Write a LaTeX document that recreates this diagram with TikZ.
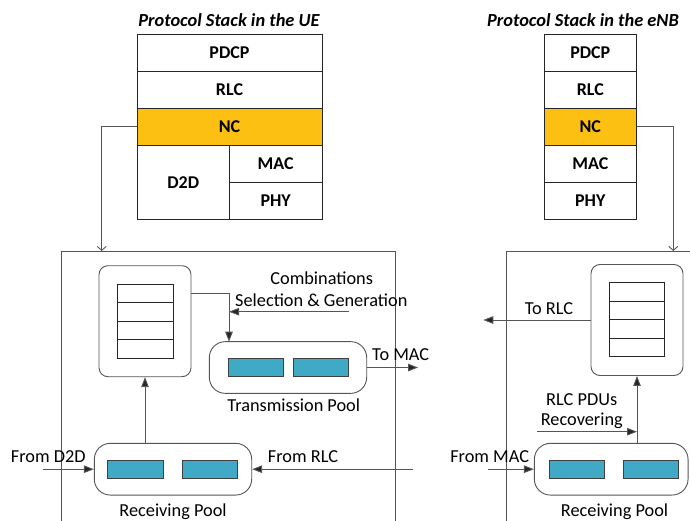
\documentclass[tikz,border=0pt]{standalone}
\usepackage{fontspec}
\setmainfont{Carlito}
\usetikzlibrary{arrows.meta}
\definecolor{ncfill}{RGB}{251,192,18}
\definecolor{tealb}{RGB}{64,170,198}
\definecolor{ln}{RGB}{85,85,85}
\begin{document}
\begin{tikzpicture}[x=1pt,y=-1pt,
  cell/.style={draw=black!85, line width=0.8pt, inner sep=0pt, font=\fontsize{18}{21}\selectfont\bfseries},
  ttl/.style={inner sep=0pt, font=\fontsize{18.4}{21}\selectfont\bfseries\itshape},
  lbl/.style={inner sep=0pt, font=\fontsize{18.3}{22}\selectfont},
  qbox/.style={draw=ln, line width=0.9pt, rounded corners=9pt, minimum width=92pt, minimum height=111pt, inner sep=0pt},
  qcell/.style={draw=black!85, line width=0.8pt, minimum width=55.7pt, minimum height=18.5pt, inner sep=0pt},
  pool/.style={draw=ln, line width=0.9pt, rounded corners=16pt, minimum height=51.7pt, inner sep=0pt},
  tbox/.style={draw=black!75, line width=0.8pt, fill=tealb, minimum width=55.5pt, minimum height=18.4pt, inner sep=0pt},
  arr/.style={draw=ln, line width=0.9pt, -{Triangle[length=10pt,width=7.5pt,fill=black!85]}},
  openarr/.style={draw=ln, line width=0.9pt, -{Straight Barb[length=4pt,width=9pt]}},
  frame/.style={draw=ln, line width=0.9pt}
]
\useasboundingbox (0,0) rectangle (690,521);

% ---------- UE protocol stack ----------
\node[ttl] (uettl) at (229,20) {Protocol Stack in the UE};
\node[cell, minimum width=185pt, minimum height=36.7pt] (uepdcp) at (229.5,52.6) {PDCP};
\node[cell, minimum width=185pt, minimum height=37.3pt] (uerlc) at (229.5,89.7) {RLC};
\node[cell, minimum width=185pt, minimum height=37pt, fill=ncfill] (uenc) at (229.5,126.8) {NC};
\node[cell, minimum width=92.3pt, minimum height=73.7pt] (ued2d) at (183.2,182.2) {D2D};
\node[cell, minimum width=92.7pt, minimum height=37pt] (uemac) at (275.7,163.8) {MAC};
\node[cell, minimum width=92.7pt, minimum height=36.7pt] (uephy) at (275.7,200.7) {PHY};

% ---------- eNB protocol stack ----------
\node[ttl] (enbttl) at (583,20) {Protocol Stack in the eNB};
\node[cell, minimum width=92.7pt, minimum height=36.7pt] (enpdcp) at (590.3,52.6) {PDCP};
\node[cell, minimum width=92.7pt, minimum height=37.3pt] (enrlc) at (590.3,89.7) {RLC};
\node[cell, minimum width=92.7pt, minimum height=37pt, fill=ncfill] (ennc) at (590.3,126.8) {NC};
\node[cell, minimum width=92.7pt, minimum height=37pt] (enmac) at (590.3,163.8) {MAC};
\node[cell, minimum width=92.7pt, minimum height=36.7pt] (enphy) at (590.3,200.7) {PHY};

% ---------- frames ----------
\draw[frame] (61.7,521) -- (61.7,251) -- (395.7,251) -- (395.7,521);
\draw[frame] (506,521) -- (506,251) -- (690,251);

\coordinate (uein) at (101.7,251);
\coordinate (enbin) at (673.3,251);
\draw[openarr] (uenc.west) -| (uein);
\draw[openarr] (ennc.east) -| (enbin);

% ---------- UE NC module ----------
\node[qbox] (uqbox) at (145,321.2) {};
\node[qcell] (uq1) at (145.2,293.5) {};
\node[qcell] (uq2) at (145.2,312) {};
\node[qcell] (uq3) at (145.2,330.5) {};
\node[qcell] (uq4) at (145.2,349) {};

\node[pool, minimum width=157.4pt] (tpool) at (288,367.5) {};
\node[tbox] (tp1) at (256,367.5) {};
\node[tbox] (tp2) at (321,367.5) {};
\node[lbl] (tplbl) at (293.8,405) {Transmission Pool};

\node[lbl] (comb1) at (321.7,278.3) {Combinations};
\node[lbl] (comb2) at (321.3,300.7) {Selection \& Generation};
\coordinate (tpin) at (229,341.7);
\coordinate (selsrc) at (349,311.7);
\coordinate (selend) at (229,311.7);
\draw[arr] ([yshift=28pt]uqbox.east) -| (tpin);
\draw[arr] (selsrc) -- (selend);

\coordinate (tomac) at (418,367.5);
\draw[arr] (tpool.east) -- (tomac);
\node[lbl] (tomaclbl) at (400.7,354.3) {To MAC};

\node[pool, minimum width=157.4pt] (urp) at (173,469.2) {};
\node[tbox] (ur1) at (135.5,469.2) {};
\node[tbox] (ur2) at (209.8,469.2) {};
\node[lbl] (urplbl) at (173,511.7) {Receiving Pool};
\draw[arr] (urp.north -| uqbox.south) -- (uqbox.south);

\coordinate (fd2d) at (43.3,469.2);
\coordinate (frlc) at (413,469.2);
\draw[arr] (fd2d) -- (urp.west);
\draw[arr] (frlc) -- (urp.east);
\node[lbl] (fd2dlbl) at (48.3,456.7) {From D2D};
\node[lbl] (frlclbl) at (303,457) {From RLC};

% ---------- eNB NC module ----------
\node[qbox] (eqbox) at (637,320) {};
\node[qcell] (eq1) at (636.8,292) {};
\node[qcell] (eq2) at (636.8,310.5) {};
\node[qcell] (eq3) at (636.8,329) {};
\node[qcell] (eq4) at (636.8,347.5) {};

\coordinate (torlc) at (483.3,320);
\draw[arr] (eqbox.west) -- (torlc);
\node[lbl] (torlclbl) at (549,308.3) {To RLC};

\node[pool, minimum width=153.7pt] (erp) at (611.2,469.2) {};
\node[tbox] (er1) at (576.7,469.2) {};
\node[tbox] (er2) at (650.7,469.2) {};
\node[lbl] (erplbl) at (614.5,511.7) {Receiving Pool};
\draw[arr] (erp.north -| eqbox.south) -- (eqbox.south);

\node[lbl] (rec1) at (581.7,400) {RLC PDUs};
\node[lbl] (rec2) at (581.8,420.7) {Recovering};
\coordinate (recsrc) at (537.3,431.7);
\coordinate (recend) at (637,431.7);
\draw[arr] (recsrc) -- (recend);

\coordinate (fmac) at (488.3,469.2);
\draw[arr] (fmac) -- (erp.west);
\node[lbl] (fmaclbl) at (489.7,457) {From MAC};
\end{tikzpicture}
\end{document}
